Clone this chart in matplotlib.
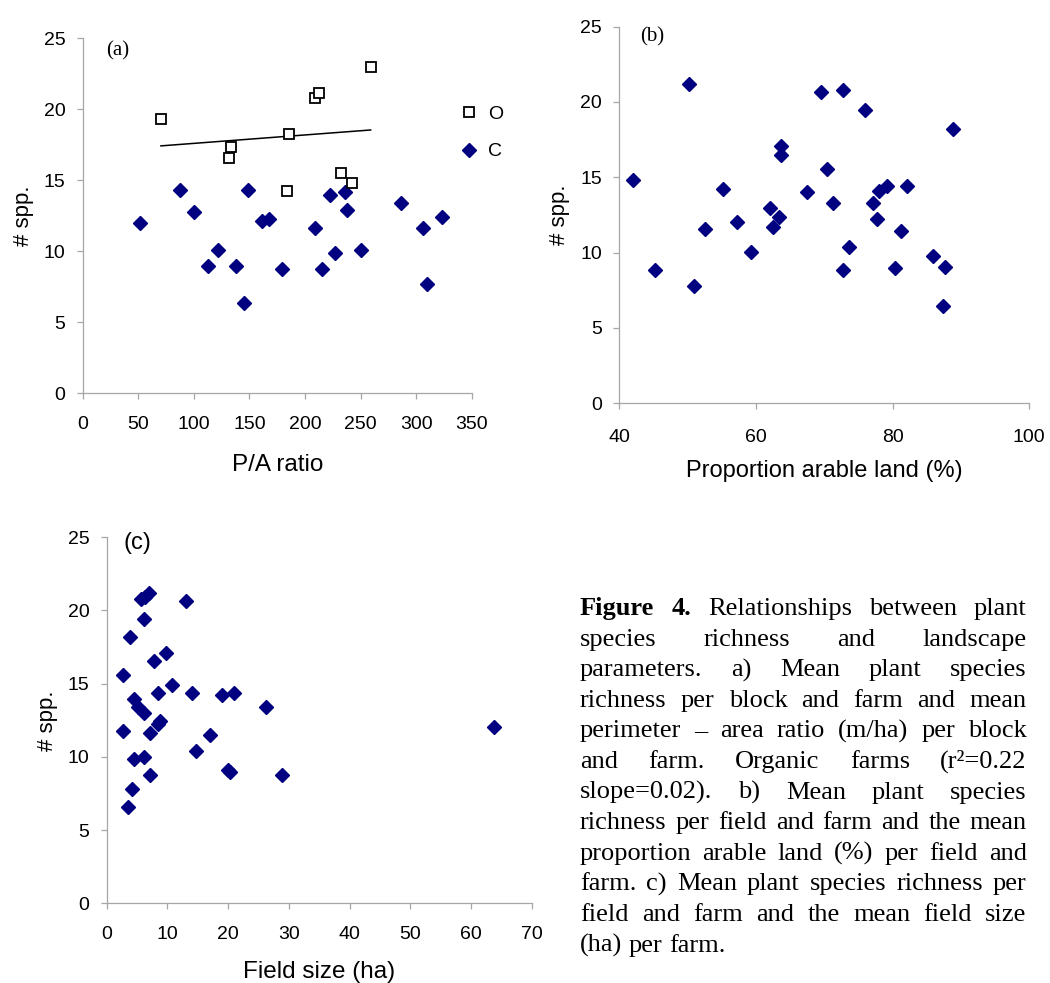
import numpy as np
import matplotlib
matplotlib.use("Agg")
import matplotlib.pyplot as plt
from matplotlib.lines import Line2D

# (a) P/A ratio vs mean species, organic (O) and conventional (C)
pa_org = [70.4, 133.3, 131.5, 185.4, 183.6, 208.8, 212.4, 259.1, 232.2, 242.7]
spp_org = [19.34, 17.37, 16.57, 18.24, 14.27, 20.77, 21.17, 23.0, 15.54, 14.83]
pa_con = [51.5, 87.5, 100.0, 112.6, 121.6, 137.5, 145.0, 148.6, 160.9, 167.2, 178.9,
          209.4, 215.1, 222.3, 227.4, 236.4, 238.2, 250.8, 286.7, 306.5, 310.1, 323.0]
spp_con = [11.97, 14.32, 12.79, 8.99, 10.11, 8.99, 6.34, 14.32, 12.11, 12.25, 8.73,
           11.66, 8.73, 13.94, 9.86, 14.2, 12.93, 10.11, 13.38, 11.66, 7.72, 12.39]

# (b) proportion arable land (%)
arable = [42.05, 45.27, 50.20, 50.89, 52.54, 55.18, 57.22, 59.27, 62.10, 62.49, 63.37,
          63.62, 63.62, 67.42, 69.52, 70.40, 71.32, 72.78, 72.78, 73.66, 75.96, 77.08,
          77.67, 77.96, 79.22, 80.30, 81.18, 82.10, 85.86, 87.37, 87.71, 88.84]
spp_b = [14.80, 8.83, 21.17, 7.76, 11.59, 14.24, 12.01, 10.02, 12.94, 11.72, 12.38,
         17.07, 16.48, 14.0, 20.64, 15.57, 13.31, 20.77, 8.83, 10.39, 19.44, 13.31,
         12.25, 14.11, 14.40, 8.96, 11.45, 14.40, 9.75, 6.44, 9.06, 18.22]

# (c) field size (ha)
field = [7.02, 6.31, 5.65, 13.01, 6.10, 3.79, 9.77, 7.74, 2.74, 10.76, 8.40, 14.00,
         18.95, 21.03, 4.45, 5.21, 6.20, 26.19, 8.78, 8.40, 2.74, 7.08, 16.97, 63.76,
         14.66, 6.10, 4.45, 19.93, 20.26, 7.08, 28.83, 4.12, 3.46]
spp_c = [21.17, 20.94, 20.76, 20.63, 19.40, 18.17, 17.08, 16.53, 15.6, 14.89, 14.34,
         14.34, 14.21, 14.34, 13.96, 13.43, 12.98, 13.39, 12.43, 12.25, 11.77, 11.61,
         11.48, 12.02, 10.38, 9.97, 9.84, 9.11, 8.97, 8.74, 8.74, 7.79, 6.56]

caption_lines = [
    "Figure 4. Relationships between plant",
    "species richness and landscape",
    "parameters. a) Mean plant species",
    "richness per block and farm and mean",
    "perimeter \u2013 area ratio (m/ha) per block",
    "and farm. Organic farms (r\u00b2=0.22",
    "slope=0.02). b) Mean plant species",
    "richness per field and farm and the mean",
    "proportion arable land (%) per field and",
    "farm. c) Mean plant species richness per",
    "field and farm and the mean field size",
    "(ha) per farm.",
]

navy = "#000080"
axcol = "#a6a6a6"
plt.rcParams["font.family"] = ["Liberation Sans", "DejaVu Sans"]

W, H = 1050, 983
fig = plt.figure(figsize=(W / 100, H / 100), dpi=100)


def box(l, r, b, t):
    return [l / W, 1 - b / H, (r - l) / W, (b - t) / H]


def style(ax, xlim, xticks, ylim, xpad):
    ax.set_xlim(*xlim)
    ax.set_ylim(*ylim)
    ax.set_xticks(xticks)
    ax.set_yticks(np.arange(0, 26, 5))
    for s in ["top", "right"]:
        ax.spines[s].set_visible(False)
    for s in ["left", "bottom"]:
        ax.spines[s].set_color(axcol)
        ax.spines[s].set_linewidth(0.9)
    ax.tick_params(axis="both", direction="out", length=4.5, width=0.9, color=axcol,
                   labelsize=14)
    ax.tick_params(axis="y", pad=8)
    ax.tick_params(axis="x", pad=xpad)


# panel (a)
ax1 = fig.add_axes(box(82.7, 471.7, 393.3, 38.3))
ax1.plot(pa_con, spp_con, "D", color=navy, ms=7.2, mec=navy, label="C", zorder=3)
ax1.plot(pa_org, spp_org, "s", mfc="white", mec="black", ms=7.5, mew=1.3, label="O",
         zorder=4)
k, b0 = np.polyfit(pa_org, spp_org, 1)
xs = np.array([min(pa_org), max(pa_org)])
ax1.plot(xs, k * xs + b0, color="black", lw=1.1, zorder=2)
style(ax1, (0, 350), np.arange(0, 351, 50), (0, 25), 12)
ax1.set_xlabel("P/A ratio", fontsize=17.5, labelpad=15)
ax1.set_ylabel("# spp.", fontsize=16, labelpad=7)
ax1.text(0.091, 0.965, "(a)", transform=ax1.transAxes, ha="center", va="center",
         fontsize=15, family="Liberation Serif")
hs = [Line2D([], [], ls="", marker="s", mfc="white", mec="black", ms=7.5, mew=1.3),
      Line2D([], [], ls="", marker="D", color=navy, ms=7.2)]
ax1.legend(hs, ["O", "C"], loc="upper left", bbox_to_anchor=(0.968, 0.811),
           frameon=False, fontsize=14, handlelength=1.0, handletextpad=0.5,
           labelspacing=1.02, borderpad=0, borderaxespad=0)

# panel (b)
ax2 = fig.add_axes(box(619.3, 1029.3, 403.3, 26.6))
ax2.plot(arable, spp_b, "D", color=navy, ms=7.2, mec=navy)
style(ax2, (40, 100), [40, 60, 80, 100], (0, 25), 14)
ax2.set_xlabel("Proportion arable land (%)", fontsize=17, labelpad=10)
ax2.set_ylabel("# spp.", fontsize=16, labelpad=7)
ax2.text(0.081, 0.973, "(b)", transform=ax2.transAxes, ha="center", va="center",
         fontsize=15, family="Liberation Serif")

# panel (c)
ax3 = fig.add_axes(box(106.7, 531.7, 903.3, 537.3))
ax3.plot(field, spp_c, "D", color=navy, ms=7.2, mec=navy)
style(ax3, (0, 70), np.arange(0, 71, 10), (0, 25), 12)
ax3.set_xlabel("Field size (ha)", fontsize=17.5, labelpad=13)
ax3.set_ylabel("# spp.", fontsize=16, labelpad=7)
ax3.text(0.072, 0.985, "(c)", transform=ax3.transAxes, ha="center", va="center",
         fontsize=17)

# justified caption
fig.canvas.draw()
rend = fig.canvas.get_renderer()
left, right = 580, 1026.7
base0, step = 615, 30.6
for i, line in enumerate(caption_lines):
    words = line.split(" ")
    y = 1 - (base0 + i * step) / H
    texts = []
    for j, w in enumerate(words):
        bold = (i == 0 and j < 2)
        texts.append(fig.text(0, y, w, fontsize=19, family="Liberation Serif",
                              weight="bold" if bold else "normal", va="baseline"))
    widths = [t.get_window_extent(rend).width for t in texts]
    if i == len(caption_lines) - 1:
        gap = 19 * 0.25 * 100 / 72
    else:
        gap = (right - left - sum(widths)) / (len(words) - 1)
    x = left
    for t, w in zip(texts, widths):
        t.set_x(x / W)
        x += w + gap

fig.savefig("out.png", dpi=100)
